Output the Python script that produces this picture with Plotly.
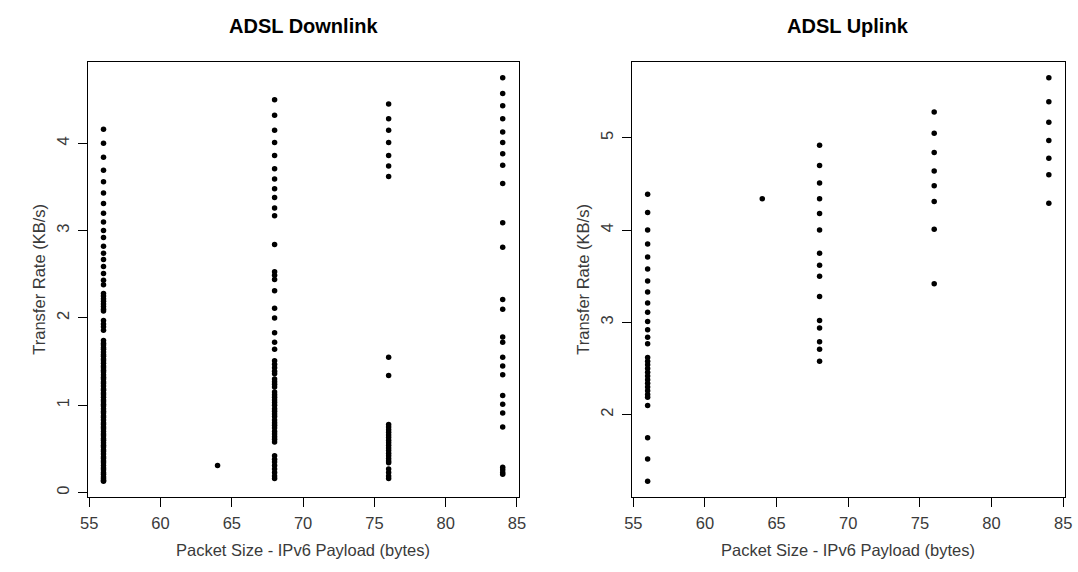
import plotly.graph_objects as go

# ---------------------------------------------------------------------------
# Transfer rate (KB/s) measured per packet size (IPv6 payload, bytes)
# ---------------------------------------------------------------------------
packet_sizes = [56, 64, 68, 76, 84]

down_56 = [4.16, 4.00, 3.84, 3.69, 3.56, 3.43, 3.31, 3.20, 3.10, 3.00, 2.92,
           2.82, 2.74, 2.67, 2.59, 2.51, 2.43, 2.38, 2.28, 2.25, 2.22, 2.19,
           2.16, 2.13, 2.10, 2.08, 1.97, 1.93, 1.90, 1.86, 1.74, 1.71, 1.69,
           1.66, 1.64, 1.61, 1.58, 1.56, 1.53, 1.51, 1.48, 1.45, 1.43, 1.40,
           1.38, 1.35, 1.32, 1.30, 1.27, 1.25, 1.22, 1.19, 1.17, 1.14, 1.12,
           1.09, 1.06, 1.04, 1.01, 0.99, 0.96, 0.93, 0.91, 0.88, 0.86, 0.83,
           0.80, 0.78, 0.75, 0.73, 0.70, 0.67, 0.65, 0.62, 0.60, 0.57, 0.54,
           0.52, 0.49, 0.47, 0.44, 0.41, 0.39, 0.36, 0.34, 0.31, 0.28, 0.26,
           0.23, 0.21, 0.18, 0.16, 0.14, 0.13]
down_64 = [0.31]
down_68 = [4.50, 4.32, 4.15, 4.01, 3.86, 3.71, 3.59, 3.48, 3.38, 3.26, 3.17,
           2.84, 2.53, 2.49, 2.44, 2.31, 2.11, 2.00, 1.83, 1.72, 1.64, 1.51,
           1.47, 1.43, 1.39, 1.36, 1.30, 1.27, 1.24, 1.21, 1.15, 1.12, 1.09,
           1.06, 1.03, 1.00, 0.96, 0.93, 0.90, 0.87, 0.83, 0.80, 0.77, 0.74,
           0.70, 0.67, 0.64, 0.61, 0.58, 0.42, 0.38, 0.35, 0.31, 0.27, 0.23,
           0.19, 0.16]
down_76 = [4.45, 4.28, 4.15, 4.01, 3.86, 3.74, 3.62, 1.55, 1.34, 0.78, 0.75,
           0.72, 0.69, 0.66, 0.63, 0.60, 0.57, 0.54, 0.51, 0.48, 0.45, 0.42,
           0.39, 0.36, 0.34, 0.27, 0.23, 0.19, 0.16]
down_84 = [4.75, 4.57, 4.43, 4.28, 4.13, 4.01, 3.88, 3.75, 3.54, 3.09, 2.81,
           2.21, 2.10, 1.78, 1.72, 1.55, 1.45, 1.35, 1.11, 1.01, 0.91, 0.75,
           0.29, 0.26, 0.23, 0.21]

up_56 = [4.39, 4.19, 4.00, 3.85, 3.71, 3.58, 3.45, 3.33, 3.21, 3.11, 3.01,
         2.92, 2.84, 2.77, 2.62, 2.58, 2.54, 2.50, 2.46, 2.42, 2.38, 2.34,
         2.30, 2.26, 2.22, 2.19, 2.10, 1.75, 1.52, 1.28]
up_64 = [4.34]
up_68 = [4.92, 4.70, 4.51, 4.34, 4.18, 4.00, 3.75, 3.62, 3.50, 3.28, 3.02,
         2.94, 2.79, 2.71, 2.58]
up_76 = [5.28, 5.05, 4.84, 4.64, 4.48, 4.31, 4.01, 3.42]
up_84 = [5.65, 5.39, 5.17, 4.97, 4.78, 4.60, 4.29]

x_ticks = [55, 60, 65, 70, 75, 80, 85]
down_y_ticks = [0, 1, 2, 3, 4]
up_y_ticks = [2, 3, 4, 5]

downlink = [down_56, down_64, down_68, down_76, down_84]
uplink = [up_56, up_64, up_68, up_76, up_84]


def flatten(groups):
    xs, ys = [], []
    for size, vals in zip(packet_sizes, groups):
        xs += [size] * len(vals)
        ys += vals
    return xs, ys


def padded(lo, hi):
    # 4% padding on each side, like a base-graphics default range
    d = (hi - lo) * 0.04
    return [lo - d, hi + d]


W, H = 1078, 572
FONT = "Liberation Sans, Arial, Helvetica, sans-serif"
TXT = "#3a3a3a"

# plot boxes in pixels: (left, right), shared top/bottom
box_l = (81.6, 518.4)
box_r = (632.8, 1071.8)
box_top, box_bot = 61.7, 497.3

fig = go.Figure()

dx, dy = flatten(downlink)
ux, uy = flatten(uplink)
marker = dict(color="black", size=5.5, line=dict(width=0))
fig.add_trace(go.Scatter(x=dx, y=dy, mode="markers", marker=marker,
                         xaxis="x", yaxis="y", showlegend=False))
fig.add_trace(go.Scatter(x=ux, y=uy, mode="markers", marker=marker,
                         xaxis="x2", yaxis="y2", showlegend=False))

xr = padded(min(packet_sizes), max(packet_sizes))

common = dict(
    showline=True, linecolor="black", linewidth=1, mirror=True,
    ticks="outside", ticklen=9, tickwidth=1, tickcolor="black",
    showgrid=False, zeroline=False,
    tickfont=dict(family=FONT, size=16.5, color=TXT),
)

ydom = [(H - box_bot) / H, (H - box_top) / H]

fig.update_layout(
    width=W, height=H,
    margin=dict(l=0, r=0, t=0, b=0),
    paper_bgcolor="white", plot_bgcolor="white",
    xaxis=dict(domain=[box_l[0] / W, box_l[1] / W], range=xr,
               tickvals=x_ticks, anchor="y", ticklabelstandoff=2, **common),
    yaxis=dict(domain=ydom, range=padded(min(dy), max(dy)),
               tickvals=down_y_ticks, tickangle=-90, anchor="x",
               ticklabelstandoff=2, **common),
    xaxis2=dict(domain=[box_r[0] / W, box_r[1] / W], range=xr,
                tickvals=x_ticks, anchor="y2", ticklabelstandoff=2, **common),
    yaxis2=dict(domain=ydom, range=padded(min(uy), max(uy)),
                tickvals=up_y_ticks, tickangle=-90, anchor="x2",
                ticklabelstandoff=2, **common),
)

titles = [("ADSL Downlink", box_l), ("ADSL Uplink", box_r)]
annotations = []
for text, (l, r) in titles:
    cx = (l + r) / 2
    annotations.append(dict(
        text=f"<b>{text}</b>", x=cx / W, y=1 - 26 / H, xref="paper",
        yref="paper", xanchor="center", yanchor="middle", showarrow=False,
        font=dict(family=FONT, size=20, color="black")))
    annotations.append(dict(
        text="Packet Size - IPv6 Payload (bytes)", x=cx / W, y=(H - 550) / H,
        xref="paper", yref="paper", xanchor="center", yanchor="middle",
        showarrow=False, font=dict(family=FONT, size=16.5, color=TXT)))
    annotations.append(dict(
        text="Transfer Rate (KB/s)", x=(l - 50) / W,
        y=1 - ((box_top + box_bot) / 2) / H, xref="paper", yref="paper",
        xanchor="center", yanchor="middle", textangle=-90, showarrow=False,
        font=dict(family=FONT, size=16.5, color=TXT)))
fig.update_layout(annotations=annotations)

fig.write_html("out.html")
